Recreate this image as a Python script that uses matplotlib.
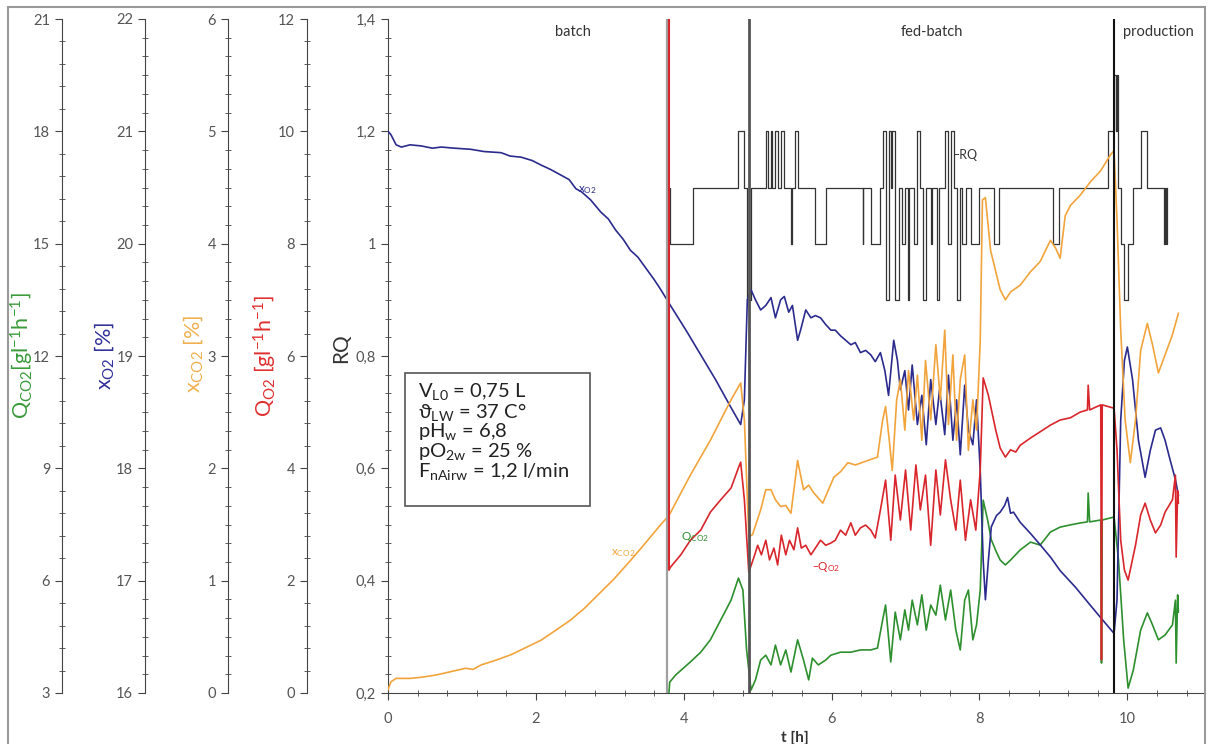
import matplotlib
matplotlib.use('Agg')
import matplotlib.pyplot as plt
from matplotlib.ticker import MultipleLocator
from matplotlib.patches import Rectangle

plt.rcParams['font.family'] = ['Lato', 'DejaVu Sans']
plt.rcParams['mathtext.default'] = 'regular'

# phase markers [h]
t_inoc = 3.80
t_fed = 4.88
t_prod = 9.82

# RQ (step signal), change points
rq_t = [3.80, 3.82, 4.12, 4.73, 4.81, 4.85, 4.91, 5.11, 5.14, 5.18, 5.20, 5.24, 5.27, 5.32, 5.35,
        5.45, 5.47, 5.50, 5.54, 5.77, 5.93, 6.42, 6.43, 6.53, 6.66, 6.70, 6.73, 6.77, 6.80, 6.82,
        6.86, 6.91, 6.95, 6.99, 7.03, 7.05, 7.11, 7.15, 7.19, 7.24, 7.27, 7.34, 7.36, 7.42, 7.45,
        7.53, 7.57, 7.61, 7.65, 7.70, 7.73, 7.77, 7.82, 7.88, 7.99, 8.19, 8.26, 9.00, 9.07, 9.74,
        9.82, 9.84, 9.86, 9.88, 9.91, 9.95, 10.01, 10.08, 10.18, 10.27, 10.49, 10.51, 10.52, 10.54]
rq_v = [1.1, 1.0, 1.1, 1.2, 1.1, 0.9, 1.1, 1.2, 1.1, 1.2, 1.1, 1.2, 1.1, 1.2, 1.1,
        1.0, 1.1, 1.2, 1.1, 1.0, 1.1, 1.0, 1.1, 1.0, 1.1, 1.2, 0.9, 1.2, 1.1, 1.2,
        0.9, 1.1, 1.0, 1.1, 0.9, 1.1, 1.0, 1.2, 1.1, 0.9, 1.1, 1.0, 1.1, 0.9, 1.1,
        1.2, 1.0, 1.2, 1.1, 0.9, 1.1, 1.0, 1.1, 1.0, 1.1, 1.0, 1.1, 1.0, 1.1, 1.2,
        1.3, 1.2, 1.3, 1.1, 1.0, 0.9, 1.0, 1.1, 1.2, 1.1, 1.0, 1.1, 1.0, 1.1]

# x_O2 [%]  (t, value)
xo2 = [(0.00, 21.00), (0.04, 20.97), (0.11, 20.88), (0.18, 20.86), (0.30, 20.88), (0.45, 20.87),
       (0.60, 20.85), (0.72, 20.86), (0.90, 20.85), (1.12, 20.84), (1.30, 20.82), (1.53, 20.81),
       (1.65, 20.78), (1.80, 20.77), (1.95, 20.74), (2.07, 20.70), (2.20, 20.66), (2.34, 20.61),
       (2.45, 20.57), (2.54, 20.49), (2.62, 20.46), (2.74, 20.39), (2.88, 20.28), (2.98, 20.22),
       (3.08, 20.12), (3.18, 20.04), (3.28, 19.94), (3.38, 19.88), (3.49, 19.78), (3.60, 19.68),
       (3.69, 19.59), (3.82, 19.45), (4.03, 19.23), (4.23, 19.01), (4.43, 18.79), (4.64, 18.54),
       (4.77, 18.39),
       (4.82, 18.61), (4.86, 19.50), (4.91, 19.59), (4.97, 19.50), (5.04, 19.41), (5.11, 19.45),
       (5.18, 19.52), (5.24, 19.34), (5.31, 19.50), (5.36, 19.53), (5.42, 19.39), (5.47, 19.45),
       (5.54, 19.14), (5.58, 19.23), (5.65, 19.41), (5.72, 19.34), (5.78, 19.36), (5.85, 19.34),
       (5.92, 19.28), (5.99, 19.23), (6.05, 19.23), (6.12, 19.18), (6.19, 19.14), (6.26, 19.10),
       (6.32, 19.12), (6.39, 19.03), (6.46, 19.05), (6.53, 19.01), (6.59, 18.95), (6.66, 19.03),
       (6.72, 18.87), (6.77, 18.65), (6.84, 19.14), (6.89, 18.96), (6.93, 18.70), (6.99, 18.87),
       (7.04, 18.52), (7.09, 18.92), (7.16, 18.39), (7.22, 18.65), (7.28, 18.21), (7.34, 18.79),
       (7.41, 18.39), (7.46, 18.70), (7.53, 18.30), (7.58, 18.83), (7.64, 18.25), (7.69, 18.61),
       (7.74, 18.12), (7.80, 18.74), (7.85, 18.34), (7.91, 18.21), (7.96, 18.61), (8.01, 17.98),
       (8.05, 17.18), (8.08, 16.83), (8.12, 17.18), (8.16, 17.48), (8.23, 17.58), (8.28, 17.61),
       (8.34, 17.67), (8.38, 17.74), (8.42, 17.60), (8.46, 17.61), (8.55, 17.52), (8.69, 17.42),
       (8.82, 17.32), (8.96, 17.21), (9.09, 17.09), (9.30, 16.94), (9.50, 16.78), (9.64, 16.67),
       (9.82, 16.53), (9.86, 16.83), (9.91, 18.43), (9.96, 18.96), (10.00, 19.08), (10.07, 18.79),
       (10.15, 18.25), (10.24, 17.92), (10.31, 18.16), (10.38, 18.34), (10.45, 18.36), (10.51, 18.25),
       (10.58, 18.07), (10.65, 17.90), (10.69, 17.76)]

# x_CO2 [%]
xco2 = [(0.00, 0.03), (0.04, 0.10), (0.11, 0.13), (0.30, 0.13), (0.45, 0.14), (0.65, 0.16),
        (0.85, 0.19), (1.05, 0.22), (1.15, 0.21), (1.26, 0.25), (1.45, 0.29), (1.66, 0.34),
        (1.85, 0.40), (2.07, 0.47), (2.25, 0.55), (2.47, 0.65), (2.65, 0.75), (2.88, 0.90),
        (3.05, 1.01), (3.28, 1.18), (3.45, 1.31), (3.69, 1.50),
        (3.80, 1.58), (4.09, 1.94), (4.36, 2.25), (4.64, 2.61), (4.77, 2.76), (4.82, 2.43),
        (4.88, 1.39), (4.93, 1.41), (5.04, 1.63), (5.11, 1.81), (5.18, 1.81), (5.24, 1.72),
        (5.31, 1.66), (5.38, 1.67), (5.45, 1.60), (5.54, 2.07), (5.62, 1.81), (5.69, 1.85),
        (5.76, 1.78), (5.88, 1.69), (6.03, 1.92), (6.12, 1.97), (6.22, 2.05), (6.32, 2.03),
        (6.49, 2.07), (6.62, 2.10), (6.69, 2.43), (6.73, 2.55), (6.78, 2.25), (6.82, 1.98),
        (6.88, 2.61), (6.93, 2.79), (6.99, 2.34), (7.04, 2.87), (7.11, 2.43), (7.16, 2.83),
        (7.22, 2.25), (7.27, 2.96), (7.34, 2.43), (7.41, 3.10), (7.47, 2.61), (7.53, 3.23),
        (7.58, 2.39), (7.64, 3.01), (7.69, 2.25), (7.74, 2.79), (7.80, 3.01), (7.85, 2.16),
        (7.91, 2.61), (7.96, 2.34), (8.01, 3.14), (8.04, 4.39), (8.08, 4.41), (8.15, 3.94),
        (8.28, 3.59), (8.35, 3.50), (8.42, 3.57), (8.55, 3.63), (8.69, 3.75), (8.82, 3.84),
        (8.96, 4.03), (9.03, 3.96), (9.09, 3.87), (9.16, 4.25), (9.23, 4.34), (9.36, 4.43),
        (9.50, 4.55), (9.64, 4.65), (9.77, 4.79), (9.82, 4.83), (9.86, 4.21), (9.91, 3.23),
        (9.97, 2.43), (10.04, 2.05), (10.11, 2.43), (10.18, 3.05), (10.27, 3.29), (10.34, 3.10),
        (10.42, 2.85), (10.51, 3.01), (10.61, 3.19), (10.69, 3.38)]

# Q_O2 [g/(l h)]
qo2 = [(3.80, 2.19), (3.82, 2.24), (3.96, 2.46), (4.09, 2.72), (4.23, 2.90), (4.36, 3.22),
       (4.50, 3.44), (4.64, 3.65), (4.74, 4.01), (4.77, 4.11), (4.82, 3.44), (4.88, 2.15),
       (4.95, 2.42), (5.00, 2.63), (5.05, 2.46), (5.11, 2.72), (5.16, 2.37), (5.22, 2.58),
       (5.27, 2.28), (5.32, 2.81), (5.38, 2.46), (5.43, 2.72), (5.49, 2.55), (5.54, 2.94),
       (5.59, 2.58), (5.65, 2.63), (5.72, 2.46), (5.78, 2.58), (5.85, 2.72), (5.92, 2.63),
       (5.99, 2.67), (6.05, 2.72), (6.12, 2.90), (6.19, 2.81), (6.26, 3.03), (6.32, 2.81),
       (6.39, 2.94), (6.46, 2.99), (6.53, 2.90), (6.59, 2.76), (6.66, 3.26), (6.73, 3.79),
       (6.80, 2.72), (6.86, 3.88), (6.93, 3.08), (7.00, 3.97), (7.07, 2.90), (7.14, 4.06),
       (7.20, 3.26), (7.27, 3.88), (7.34, 2.63), (7.41, 3.97), (7.47, 3.17), (7.54, 4.15),
       (7.61, 3.44), (7.68, 2.90), (7.74, 3.79), (7.81, 2.72), (7.88, 3.44), (7.95, 2.90),
       (8.01, 3.97), (8.05, 5.61), (8.12, 5.30), (8.22, 4.68), (8.28, 4.36), (8.35, 4.20),
       (8.42, 4.33), (8.49, 4.29), (8.55, 4.41), (8.69, 4.54), (8.82, 4.65), (8.96, 4.77),
       (9.09, 4.86), (9.23, 4.90), (9.36, 5.00), (9.46, 5.04), (9.47, 5.48), (9.49, 5.04),
       (9.64, 5.13), (9.65, 0.59), (9.66, 5.13), (9.82, 5.07), (9.86, 4.33), (9.91, 2.72),
       (9.96, 2.19), (10.01, 2.01), (10.11, 2.63), (10.18, 3.17), (10.24, 3.38), (10.31, 3.08),
       (10.38, 2.85), (10.45, 2.99), (10.51, 3.22), (10.61, 3.44), (10.65, 3.88), (10.66, 2.42),
       (10.68, 3.60), (10.69, 3.38)]

# Q_CO2 [g/(l h)]
qco2 = [(3.80, 3.00), (3.81, 3.29), (3.89, 3.48), (4.09, 3.83), (4.23, 4.09), (4.36, 4.42),
        (4.50, 4.95), (4.64, 5.48), (4.74, 6.07), (4.80, 5.75), (4.85, 4.15), (4.91, 3.08),
        (4.97, 3.35), (5.04, 3.88), (5.11, 4.01), (5.18, 3.75), (5.24, 4.28), (5.31, 3.75),
        (5.38, 4.15), (5.45, 3.56), (5.54, 4.42), (5.62, 3.88), (5.69, 3.35), (5.74, 3.93),
        (5.82, 3.75), (5.92, 3.88), (5.99, 4.01), (6.12, 4.09), (6.26, 4.09), (6.39, 4.15),
        (6.53, 4.15), (6.62, 4.20), (6.69, 4.95), (6.73, 5.35), (6.80, 3.83), (6.86, 5.16),
        (6.93, 4.42), (6.99, 5.22), (7.04, 4.68), (7.09, 5.48), (7.16, 4.82), (7.22, 5.62),
        (7.28, 4.68), (7.34, 5.35), (7.41, 5.08), (7.47, 5.88), (7.54, 4.95), (7.61, 5.75),
        (7.68, 4.68), (7.74, 4.15), (7.80, 5.48), (7.85, 5.75), (7.91, 4.42), (7.96, 4.82),
        (8.01, 5.75), (8.05, 8.15), (8.11, 7.62), (8.16, 7.09), (8.23, 6.76), (8.28, 6.55),
        (8.35, 6.42), (8.42, 6.55), (8.55, 6.82), (8.69, 7.03), (8.82, 6.95), (8.96, 7.30),
        (9.09, 7.43), (9.23, 7.49), (9.36, 7.54), (9.46, 7.57), (9.47, 8.34), (9.49, 7.57),
        (9.64, 7.62), (9.65, 3.80), (9.66, 7.62), (9.82, 7.70), (9.88, 6.55), (9.95, 4.42),
        (10.01, 3.13), (10.08, 3.61), (10.18, 4.68), (10.27, 5.14), (10.34, 4.82), (10.42, 4.42),
        (10.51, 4.55), (10.61, 4.82), (10.65, 5.48), (10.66, 3.80), (10.68, 5.62), (10.69, 5.16)]

rq_ticks = [0.2, 0.4, 0.6, 0.8, 1.0, 1.2, 1.4]
rq_ticklabels = ['0,2', '0,4', '0,6', '0,8', '1', '1,2', '1,4']

c_green = '#2e8f2e'
c_navy = '#2b2b8e'
c_orange = '#f2a43c'
c_red = '#d8262c'
c_grey = '#444444'

W, H = 1208, 744
fig = plt.figure(figsize=(W / 100, H / 100), dpi=100)
ax = fig.add_axes([388 / W, 51 / H, 817 / W, 674 / H])

# outer frame of the picture
fig.patches.append(Rectangle((8 / W, -0.1), 1197 / W, 1.1 - 7 / H, transform=fig.transFigure,
                             fill=False, ec='#9a9a9a', lw=1.5))

ax.set_xlim(0, 11.05)
ax.set_ylim(0.2, 1.4)
ax.spines['top'].set_visible(False)
ax.spines['right'].set_visible(False)
for s in ['left', 'bottom']:
    ax.spines[s].set_color(c_grey)
ax.set_yticks(rq_ticks)
ax.set_yticklabels(rq_ticklabels)
ax.yaxis.set_minor_locator(MultipleLocator(0.2 / 6))
ax.xaxis.set_major_locator(MultipleLocator(2))
ax.xaxis.set_minor_locator(MultipleLocator(0.4))
ax.tick_params(which='major', direction='out', length=5, color=c_grey, labelsize=10.5,
               labelcolor='#555555')
ax.tick_params(which='minor', direction='inout', length=4, color=c_grey)
ax.tick_params(axis='x', which='major', pad=9)


def side_axis(pos, lo, hi, major, minor):
    a = ax.twinx()
    a.spines['left'].set_position(('axes', pos))
    a.spines['left'].set_visible(True)
    a.spines['left'].set_color(c_grey)
    for s in ['right', 'top', 'bottom']:
        a.spines[s].set_visible(False)
    a.yaxis.set_ticks_position('left')
    a.set_ylim(lo, hi)
    a.yaxis.set_major_locator(MultipleLocator(major))
    a.yaxis.set_minor_locator(MultipleLocator(minor))
    a.tick_params(which='major', direction='out', length=5, color=c_grey, labelsize=10.5,
                  labelcolor='#555555')
    a.tick_params(which='minor', direction='inout', length=4, color=c_grey)
    return a


ax_qco2 = side_axis(-0.399, 3, 21, 3, 0.6)
ax_xo2 = side_axis(-0.2974, 16, 22, 1, 1 / 6)
ax_xco2 = side_axis(-0.1958, 0, 6, 1, 1 / 6)
ax_qo2 = side_axis(-0.0991, 0, 12, 2, 0.4)

# curves
ax.step(rq_t, rq_v, where='post', color='#333333', lw=0.9)
ax_xo2.plot([p[0] for p in xo2], [p[1] for p in xo2], color=c_navy, lw=1.2)
ax_xco2.plot([p[0] for p in xco2], [p[1] for p in xco2], color=c_orange, lw=1.2)
ax_qco2.plot([p[0] for p in qco2], [p[1] for p in qco2], color=c_green, lw=1.2)
ax_qo2.plot([p[0] for p in qo2], [p[1] for p in qo2], color=c_red, lw=1.2)

# phase lines
top = ax_qo2
top.axvline(t_inoc - 0.03, color='#a0a0a0', lw=1.6)
top.axvline(t_inoc, ymin=(0.42 - 0.2) / 1.2, ymax=1, color=c_red, lw=1.5)
top.axvline(t_fed, color='#555555', lw=2)
top.axvline(t_prod, color='#111111', lw=1.5)

# phase names and curve tags (RQ coordinates)
tr = ax.transData
for x, s in [(2.5, 'batch'), (7.36, 'fed-batch'), (10.42, 'production')]:
    top.text(x, 1.377, s, transform=tr, ha='center', va='center', fontsize=10.5, color='#333333')
top.text(2.70, 1.096, 'x$_{O2}$', transform=tr, ha='center', va='center', fontsize=8.5, color=c_navy)
top.text(7.64, 1.158, '–RQ', transform=tr, ha='left', va='center', fontsize=9, color='#333333')
top.text(3.18, 0.449, 'x$_{CO2}$', transform=tr, ha='center', va='center', fontsize=8.5, color=c_orange)
top.text(5.74, 0.424, '–Q$_{O2}$', transform=tr, ha='left', va='center', fontsize=8.5, color=c_red)
top.text(3.96, 0.478, 'Q$_{CO2}$', transform=tr, ha='left', va='center', fontsize=8.5, color=c_green)

# process conditions box
box_txt = ('V$_{L0}$ = 0,75 L\nϑ$_{LW}$ = 37 C°\npH$_{w}$ = 6,8\n'
           'pO$_{2w}$ = 25 %\nF$_{nAirw}$ = 1,2 l/min')
top.add_patch(Rectangle((17 / 817, 187 / 674), 185 / 817, 133 / 674, transform=ax.transAxes,
                        fc='white', ec='#555555', lw=1.2, zorder=5))
top.text(30 / 817, (693 - 381) / 674, box_txt, transform=ax.transAxes, ha='left', va='top',
         fontsize=14.5, color='#222222', linespacing=0.92, zorder=6)

# axis titles
fig.text(22 / W, 1 - 356 / H, 'Q$_{CO2}$[gl$^{-1}$h$^{-1}$]', rotation=90, ha='center', va='center',
         fontsize=15.5, color='#3a9a3a')
fig.text(104 / W, 1 - 356 / H, 'x$_{O2}$ [%]', rotation=90, ha='center', va='center',
         fontsize=15.5, color='#30309a')
fig.text(193 / W, 1 - 354 / H, 'x$_{CO2}$ [%]', rotation=90, ha='center', va='center',
         fontsize=15.5, color='#f0b050')
fig.text(265 / W, 1 - 356 / H, 'Q$_{O2}$ [gl$^{-1}$h$^{-1}$]', rotation=90, ha='center', va='center',
         fontsize=15.5, color='#e03030')
fig.text(341 / W, 1 - 348 / H, 'RQ', rotation=90, ha='center', va='center',
         fontsize=15, color='#333333')
fig.text(795 / W, 1 - 731 / H, 't [h]', ha='center', va='top', fontsize=11, fontweight='bold',
         color='#333333')

fig.savefig('out.png', dpi=100)
